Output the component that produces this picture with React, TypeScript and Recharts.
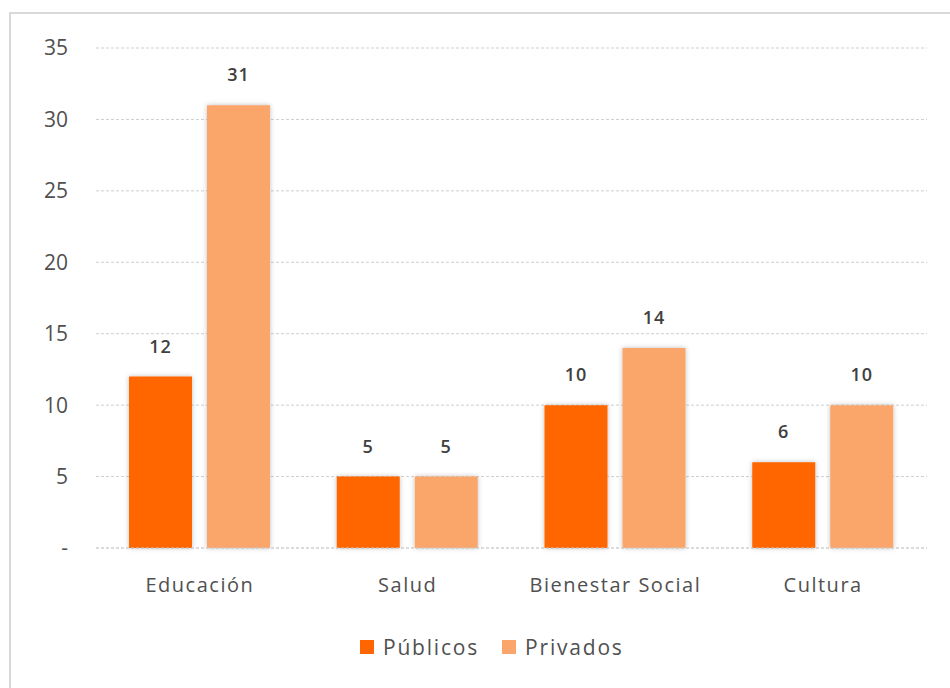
import { BarChart, Bar, XAxis, YAxis, CartesianGrid, Legend, LabelList } from "recharts";

const categorias = ["Educación", "Salud", "Bienestar Social", "Cultura"];
const publicos = [12, 5, 10, 6];
const privados = [31, 5, 14, 10];
const yTicks = [0, 5, 10, 15, 20, 25, 30, 35];

const COLOR_PUB = "#FF6600";
const COLOR_PRIV = "#FAA56B";
const FONT = "'Open Sans', Lato, sans-serif";

const data = categorias.map((c, i) => ({
  name: c,
  Públicos: publicos[i],
  Privados: privados[i],
}));

const LegendBox = () => (
  <div style={{ display: "flex", alignItems: "center", fontFamily: FONT, fontSize: 21, letterSpacing: 1.8, color: "#505050", whiteSpace: "nowrap" }}>
    <span style={{ width: 14, height: 14, background: COLOR_PUB, display: "inline-block", marginRight: 9 }} />
    <span style={{ marginRight: 23 }}>Públicos</span>
    <span style={{ width: 14, height: 14, background: COLOR_PRIV, display: "inline-block", marginRight: 9 }} />
    <span>Privados</span>
  </div>
);

export default function App() {
  return (
    <div style={{ position: "absolute", left: 0, top: 0, width: 950, height: 688, background: "#fff", overflow: "hidden" }}>
      <div
        style={{
          position: "absolute",
          left: 9,
          top: 12,
          width: 960,
          height: 700,
          border: "2px solid #d9d9d9",
        }}
      />
      <div style={{ position: "absolute", left: 0, top: 0 }}>
        <BarChart
          width={950}
          height={688}
          data={data}
          margin={{ top: 48, right: 23, left: 0, bottom: 82 }}
          barCategoryGap={33}
          barGap={15}
        >
          <defs>
            <filter id="sombra" x="-20%" y="-10%" width="140%" height="120%">
              <feDropShadow dx="0" dy="0" stdDeviation="2.5" floodColor="#000" floodOpacity="0.25" />
            </filter>
          </defs>
          <CartesianGrid vertical={false} stroke="#cfcfcf" strokeDasharray="3 2" />
          <XAxis
            dataKey="name"
            axisLine={{ stroke: "#cfcfcf", strokeDasharray: "3 2" }}
            tickLine={false}
            height={30}
            tickMargin={24}
            tick={{ fill: "#505050", fontSize: 20, fontFamily: FONT, letterSpacing: 1.5 }}
          />
          <YAxis
            width={96}
            domain={[0, 35]}
            ticks={yTicks}
            axisLine={false}
            tickLine={false}
            tickSize={0}
            tickMargin={28}
            tickFormatter={(v: number) => (v === 0 ? "-" : String(v))}
            tick={{ fill: "#505050", fontSize: 21, fontFamily: FONT }}
          />
          <Legend
            content={<LegendBox />}
            wrapperStyle={{ position: "absolute", left: 360, top: 633, width: "auto" }}
          />
          <Bar dataKey="Públicos" fill={COLOR_PUB} isAnimationActive={false} filter="url(#sombra)">
            <LabelList dataKey="Públicos" position="top" offset={24} fill="#404040" fontSize={18} fontWeight={600} letterSpacing={1} fontFamily={FONT} />
          </Bar>
          <Bar dataKey="Privados" fill={COLOR_PRIV} isAnimationActive={false} filter="url(#sombra)">
            <LabelList dataKey="Privados" position="top" offset={24} fill="#404040" fontSize={18} fontWeight={600} letterSpacing={1} fontFamily={FONT} />
          </Bar>
        </BarChart>
      </div>
    </div>
  );
}
